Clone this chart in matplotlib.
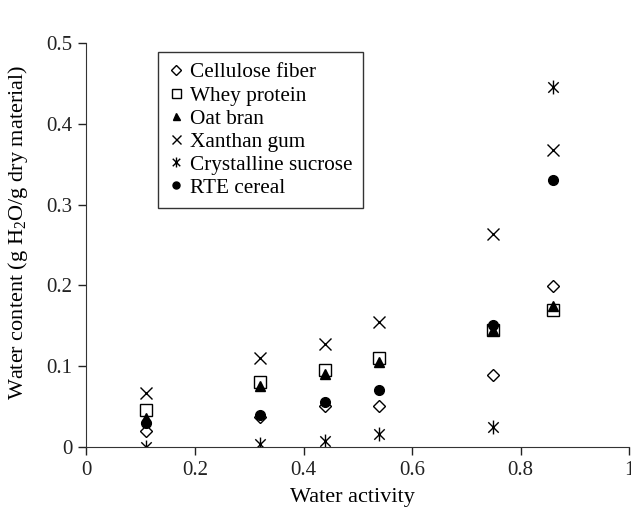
import matplotlib
matplotlib.use("Agg")
import matplotlib.pyplot as plt
from matplotlib.path import Path
import numpy as np

plt.rcParams['font.family'] = ['Liberation Serif', 'DejaVu Serif']
plt.rcParams['mathtext.fontset'] = 'custom'
plt.rcParams['mathtext.rm'] = 'Liberation Serif'

aw = [0.11, 0.32, 0.44, 0.54, 0.75, 0.86]
cellulose = [0.020, 0.037, 0.050, 0.051, 0.089, 0.199]
whey = [0.045, 0.080, 0.095, 0.110, 0.145, 0.169]
oat = [0.036, 0.075, 0.090, 0.105, 0.145, 0.175]
xanthan = [0.067, 0.110, 0.127, 0.155, 0.264, 0.367]
sucrose = [0.000, 0.003, 0.007, 0.016, 0.024, 0.446]
rte = [0.030, 0.040, 0.055, 0.070, 0.151, 0.331]

xticks = [0, 0.2, 0.4, 0.6, 0.8, 1]
xticklabels = ['0', '0.2', '0.4', '0.6', '0.8', '1']
yticks = [0, 0.1, 0.2, 0.3, 0.4, 0.5]
yticklabels = ['0', '0.1', '0.2', '0.3', '0.4', '0.5']

star = Path([(0, -1), (0, 1), (-0.75, -0.75), (0.75, 0.75), (-0.75, 0.75), (0.75, -0.75)],
            [Path.MOVETO, Path.LINETO, Path.MOVETO, Path.LINETO, Path.MOVETO, Path.LINETO])

fig = plt.figure(figsize=(6.31, 5.13), dpi=100)
ax = fig.add_axes([0.137, 0.129, 0.86, 0.787])

ax.plot(aw, cellulose, ls='none', marker='D', ms=6.5, mfc='white', mec='black', mew=1.0, label='Cellulose fiber')
ax.plot(aw, whey, ls='none', marker='s', ms=9, mfc='white', mec='black', mew=1.0, label='Whey protein')
ax.plot(aw, oat, ls='none', marker='^', ms=7, mfc='black', mec='black', label='Oat bran')
ax.plot(aw, xanthan, ls='none', marker='x', ms=9, mec='black', mew=1.0, label='Xanthan gum')
ax.plot(aw, sucrose, ls='none', marker=star, ms=10, mec='black', mew=1.0, label='Crystalline sucrose')
ax.plot(aw, rte, ls='none', marker='o', ms=7, mfc='black', mec='black', label='RTE cereal')

ax.set_xlim(0, 1)
ax.set_ylim(0, 0.5)
ax.set_xticks(xticks)
ax.set_xticklabels(xticklabels)
ax.set_yticks(yticks)
ax.set_yticklabels(yticklabels)
ax.tick_params(direction='out', length=6, width=1, labelsize=15, colors='#222222', pad=4)
for s in ['top', 'right']:
    ax.spines[s].set_visible(False)
for s in ['left', 'bottom']:
    ax.spines[s].set_color('#333333')

ax.set_xlabel('Water activity', fontsize=16)
ax.set_ylabel(r'Water content (g H$_2$O/g dry material)', fontsize=16)
ax.xaxis.set_label_coords(0.49, -0.103)
ax.yaxis.set_label_coords(-0.104, 0.531)

leg = ax.legend(loc='upper left', bbox_to_anchor=(0.132, 0.978), borderaxespad=0,
                fontsize=15.3, frameon=True, fancybox=False, edgecolor='black',
                handlelength=0.7, handletextpad=0.3, labelspacing=0.15, borderpad=0.5,
                markerscale=0.72)
leg.get_frame().set_linewidth(1.0)

fig.savefig('out.png', dpi=100)
